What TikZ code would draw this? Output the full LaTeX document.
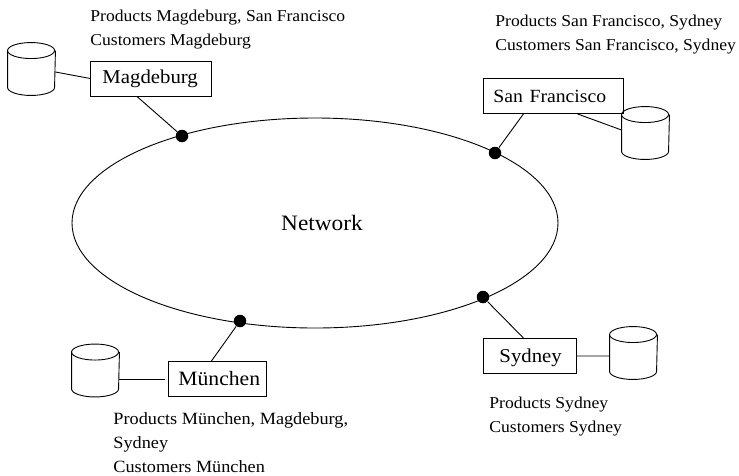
\documentclass[tikz,border=0pt]{standalone}
\usepackage{fontspec}
\setmainfont[FakeStretch=1.06]{Liberation Serif}
\usetikzlibrary{shapes.geometric}
\tikzset{
  x=1pt,y=-1pt,
  site/.style n args={3}{draw,rectangle,anchor=north west,minimum width=#1,minimum height=35pt,
    text width=#1-2*#2,align=left,inner xsep=#2,inner ysep=0pt,text height=#3,text depth=0pt,
    font=\fontsize{19.6}{22}\selectfont},
  db/.style={rectangle,anchor=center,minimum width=47pt,minimum height=52pt,inner sep=0pt},
  dbline/.style={line width=0.9pt},
  dot/.style={circle,fill=black,inner sep=0pt,minimum size=12.5pt},
  note/.style={anchor=base west,align=left,inner sep=0pt,font=\fontsize{16.6}{24}\selectfont},
  link/.style={line width=0.9pt},
}
\newcommand{\drum}[1]{%
  \draw[dbline] ([yshift=-8pt]#1.north west) arc[start angle=180,end angle=540,x radius=23.5pt,y radius=8pt];
  \draw[dbline] ([yshift=-8pt]#1.north west) -- ([yshift=8pt]#1.south west)
    arc[start angle=180,end angle=360,x radius=23.5pt,y radius=8pt] -- ([yshift=-8pt]#1.north east);
}
\begin{document}
\begin{tikzpicture}[line width=0.9pt]
\useasboundingbox (0,0) rectangle (739,475);
\node[ellipse,draw,minimum width=486pt,minimum height=210pt,inner sep=0pt] (net) at (315,223) {};
\node[anchor=base,inner sep=0pt,font=\fontsize{22}{24}\selectfont] (nettext) at (322,230) {Network};

\node[site={121pt}{12pt}{10pt}] (mag) at (90,61) {Magdeburg};
\node[site={140pt}{10pt}{13pt}] (sf) at (483,78) {\fontsize{18.6}{22}\selectfont San Francisco};
\node[site={98pt}{10pt}{13pt}] (mue) at (168,361) {\fontsize{20.4}{22}\selectfont München};
\node[site={93pt}{16pt}{14pt}] (syd) at (483,338) {Sydney};

\node[db] (dbmag) at (31.5,69) {};
\node[db] (dbsf) at (645.5,133) {};
\node[db] (dbmue) at (95.5,370.5) {};
\node[db] (dbsyd) at (633.5,353) {};
\drum{dbmag}\drum{dbsf}\drum{dbmue}\drum{dbsyd}

\node[dot] (dmag) at (182,136) {};
\node[dot] (dsf) at (495,153) {};
\node[dot] (dmue) at (240,321) {};
\node[dot] (dsyd) at (483,297) {};

\coordinate (mueend) at (165,379);

\draw[link] ([yshift=-3pt]dbmag.east) -- ([yshift=0.5pt]mag.west);
\draw[link] ([xshift=-13.5pt]mag.south) -- (dmag);
\draw[link] ([xshift=-30pt]sf.south) -- (dsf);
\draw[link] ([xshift=24pt]sf.south) -- ([yshift=3pt]dbsf.west);
\draw[link] ([yshift=-8.5pt]dbmue.east) -- (mueend);
\draw[link] ([xshift=-6pt]mue.north) -- (dmue);
\draw[link] ([xshift=-6.5pt]syd.north) -- (dsyd);
\draw[link] (syd.east) -- ([yshift=-3pt]dbsyd.west);

\node[note] (nmag) at (90,45) {Products Magdeburg, San Francisco\\Customers Magdeburg};
\node[note] (nsf) at (495,50) {Products San Francisco, Sydney\\Customers San Francisco, Sydney};
\node[note,font=\fontsize{17.2}{24}\selectfont] (nmue) at (113,472) {Products München, Magdeburg,\\Sydney\\Customers München};
\node[note] (nsyd) at (489,432) {Products Sydney\\Customers Sydney};
\end{tikzpicture}
\end{document}
